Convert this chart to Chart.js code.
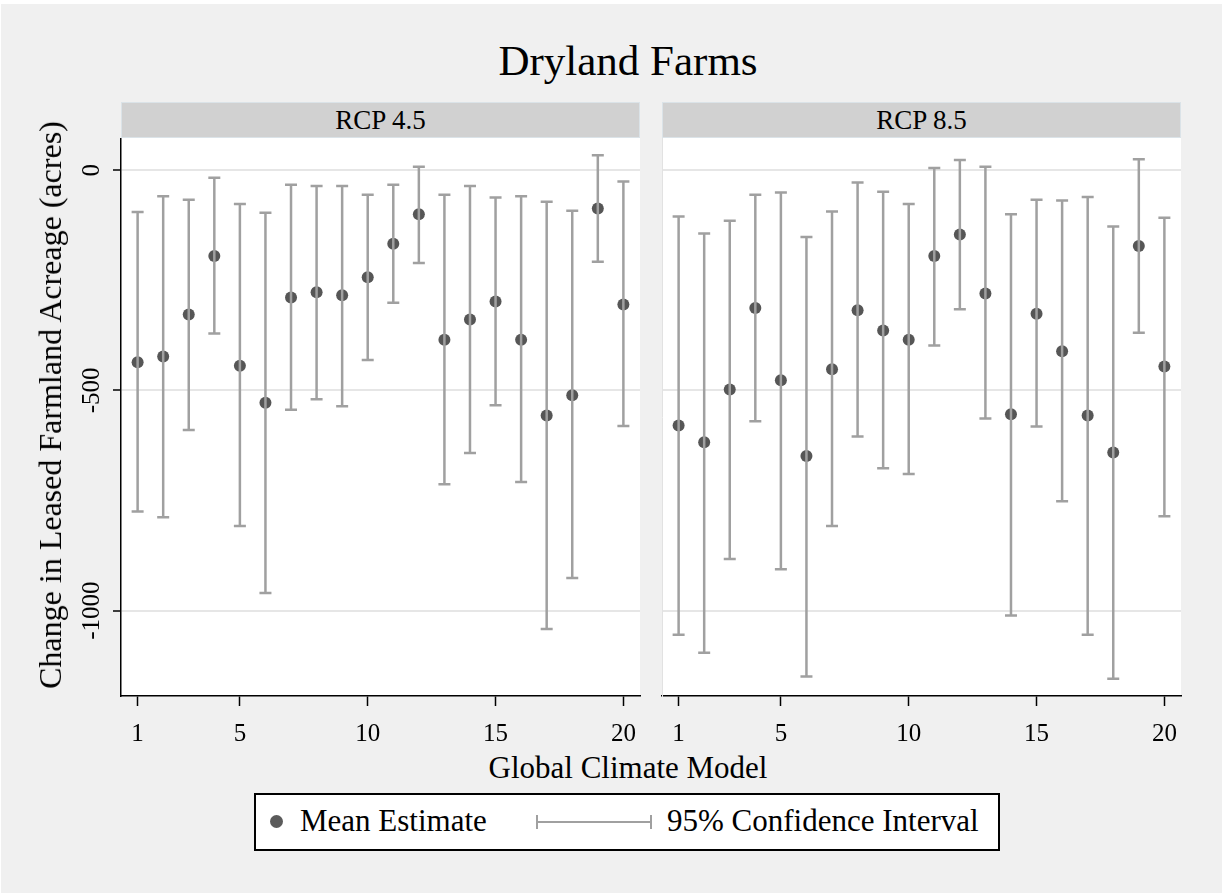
<!DOCTYPE html>
<html>
<head>
<meta charset="utf-8">
<script src="https://cdn.jsdelivr.net/npm/chart.js@4.4.1/dist/chart.umd.min.js"></script>
<style>
  html, body { margin: 0; padding: 0; background: #fff; }
  #page { position: absolute; left: 1px; top: 4px; width: 1221px; height: 889px; background: #f0f0f0; overflow: hidden; }
  .txt { position: absolute; font-family: "Liberation Serif", "Times New Roman", serif; color: #000; white-space: nowrap; }
  canvas { position: absolute; }
  .strip { position: absolute; top: 98px; height: 34px; width: 517px; background: #d1d1d1; border: 1px solid #dbe3e8;
           font-family: "Liberation Serif", "Times New Roman", serif; font-size: 27px; line-height: 34px; text-align: center; }
</style>
</head>
<body>
<div id="page">
  <div class="txt" style="left:0; width:1254px; top:32px; font-size:43px; line-height:50px; text-align:center;">Dryland Farms</div>
  <div class="strip" style="left:120px;">RCP 4.5</div>
  <div class="strip" style="left:661px;">RCP 8.5</div>
  <canvas id="left" width="645" height="608" style="left:-1px; top:134px;"></canvas>
  <canvas id="right" width="529" height="608" style="left:656px; top:134px;"></canvas>
  <div class="txt" style="left:49px; top:401px; width:0; height:0;">
    <div style="position:absolute; left:0; top:0; transform:translate(-50%,-50%) rotate(-90deg); font-size:32px; line-height:38px;">Change in Leased Farmland Acreage (acres)</div>
  </div>
  <div class="txt" style="left:0; width:1254px; top:746px; font-size:31px; line-height:36px; text-align:center;">Global Climate Model</div>
  <div id="legend" style="position:absolute; left:253px; top:789px; width:742px; height:54px; border:2px solid #000; background:#fff;">
    <div style="position:absolute; left:14px; top:20px; width:13px; height:13px; border-radius:50%; background:#5b5b5b;"></div>
    <div class="txt" style="left:44px; top:8px; font-size:31px; line-height:36px;">Mean Estimate</div>
    <div style="position:absolute; left:280px; top:26px; width:116px; height:2px; background:#a0a0a0;"></div>
    <div style="position:absolute; left:280px; top:20px; width:2px; height:14px; background:#a0a0a0;"></div>
    <div style="position:absolute; left:394px; top:20px; width:2px; height:14px; background:#a0a0a0;"></div>
    <div class="txt" style="left:411px; top:8px; font-size:31px; line-height:36px;">95% Confidence Interval</div>
  </div>
</div>
<script>
const models = [1, 2, 3, 4, 5, 6, 7, 8, 9, 10, 11, 12, 13, 14, 15, 16, 17, 18, 19, 20];

// RCP 4.5
const mean45 = [-436, -423, -328, -195, -444, -528, -289, -277, -284, -243, -167, -100, -385, -339, -298, -385, -557, -511, -87, -305];
const hi45 = [-95, -59, -67, -17, -77, -97, -33, -36, -36, -56, -33, 8, -56, -36, -62, -59, -72, -92, 34, -26];
const lo45 = [-775, -788, -590, -371, -808, -960, -544, -520, -536, -431, -301, -211, -713, -642, -534, -708, -1042, -926, -208, -581];

// RCP 8.5
const mean85 = [-580, -618, -498, -313, -477, -649, -452, -318, -364, -385, -195, -146, -280, -554, -326, -411, -557, -641, -172, -446];
const hi85 = [-105, -144, -115, -56, -51, -152, -94, -28, -49, -77, 5, 23, 8, -100, -67, -69, -61, -128, 25, -108];
const lo85 = [-1055, -1096, -883, -570, -906, -1150, -808, -605, -677, -690, -398, -316, -564, -1011, -582, -752, -1055, -1155, -369, -786];

const xTicks = [1, 5, 10, 15, 20];
const yTicks = [-1000, -500, 0];

Chart.defaults.font.family = '"Liberation Serif", "Times New Roman", serif';
Chart.defaults.color = '#000';

const whiteArea = {
  id: 'whiteArea',
  beforeDraw(chart) {
    const { ctx, chartArea: a } = chart;
    ctx.save();
    ctx.fillStyle = '#fff';
    ctx.fillRect(a.left, a.top, a.right - a.left, a.bottom - a.top);
    ctx.restore();
  }
};

// 95% CI whiskers, drawn on top of the points
const ciBars = {
  id: 'ciBars',
  afterDatasetsDraw(chart) {
    const { ctx, scales: { x, y } } = chart;
    const lo = chart.options.plugins.ciBars.lo;
    const hi = chart.options.plugins.ciBars.hi;
    ctx.save();
    ctx.strokeStyle = '#a0a0a0';
    ctx.lineWidth = 2.5;
    models.forEach((m, i) => {
      const px = x.getPixelForValue(m);
      const yl = y.getPixelForValue(lo[i]);
      const yh = y.getPixelForValue(hi[i]);
      ctx.beginPath();
      ctx.moveTo(px, yl); ctx.lineTo(px, yh);
      ctx.moveTo(px - 6, yl); ctx.lineTo(px + 6, yl);
      ctx.moveTo(px - 6, yh); ctx.lineTo(px + 6, yh);
      ctx.stroke();
    });
    ctx.restore();
  }
};

function makePanel(id, mean, lo, hi, showY) {
  return new Chart(document.getElementById(id).getContext('2d'), {
    type: 'scatter',
    data: {
      datasets: [{
        data: models.map((m, i) => ({ x: m, y: mean[i] })),
        pointRadius: 6,
        pointBackgroundColor: '#565656',
        pointBorderWidth: 0,
        pointHoverRadius: 6
      }]
    },
    options: {
      responsive: false,
      animation: false,
      events: [],
      layout: { autoPadding: false, padding: { left: showY ? 0 : 5, right: 5, top: 0, bottom: 0 } },
      plugins: { legend: { display: false }, tooltip: { enabled: false }, ciBars: { lo, hi } },
      scales: {
        x: {
          type: 'linear', min: 0.35, max: 20.65,
          afterBuildTicks: s => { s.ticks = xTicks.map(v => ({ value: v })); },
          afterFit: s => { s.height = 50; s.paddingLeft = 0; s.paddingRight = 0; },
          grid: { drawOnChartArea: false, tickColor: '#000', tickLength: 10, tickWidth: 1.5 },
          border: { color: '#000', width: 1.5 },
          ticks: { font: { size: 25 }, padding: 13, maxRotation: 0, callback: v => String(v) }
        },
        y: {
          type: 'linear', min: -1194, max: 73,
          afterBuildTicks: s => { s.ticks = yTicks.map(v => ({ value: v })); },
          afterFit: s => { s.width = showY ? 121 : 0; s.paddingTop = 0; s.paddingBottom = 0; },
          grid: { color: '#e6e6e6', lineWidth: 2, tickColor: '#000', tickWidth: 1.5, tickLength: showY ? 8 : 0, drawTicks: showY },
          border: { color: showY ? '#000' : '#e2e2e2', width: showY ? 1.5 : 1 },
          ticks: {
            display: showY, font: { size: 25 }, minRotation: 90, maxRotation: 90,
            crossAlign: 'center', padding: -9, callback: v => String(v)
          }
        }
      }
    },
    plugins: [whiteArea, ciBars]
  });
}

makePanel('left', mean45, lo45, hi45, true);
makePanel('right', mean85, lo85, hi85, false);
</script>
</body>
</html>
